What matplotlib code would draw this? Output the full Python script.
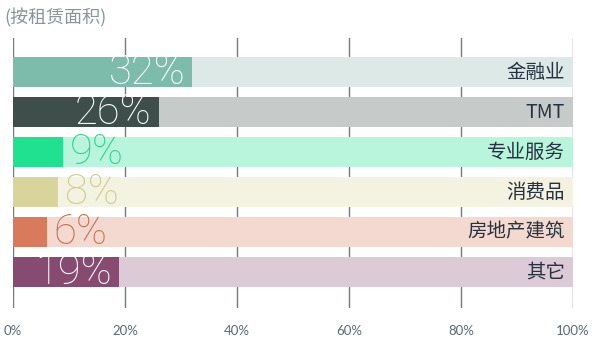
import matplotlib
matplotlib.use("Agg")
import matplotlib.pyplot as plt

plt.rcParams['font.family'] = ['Noto Sans CJK SC', 'DejaVu Sans']

categories = ["金融业", "TMT", "专业服务", "消费品", "房地产建筑", "其它"]
values = [32, 26, 9, 8, 6, 19]
dark_colors = ["#7dbcab", "#3e4e4b", "#1fe18f", "#d9d49b", "#da7a5c", "#874a70"]
light_colors = ["#dde9e6", "#c6cac9", "#b9f5dd", "#f4f2e1", "#f3d9d0", "#dccad7"]
outside_colors = ["white", "white", "#22d98b", "#cfca8e", "#cf6c4f", "white"]
ticks = [0, 20, 40, 60, 80, 100]
tick_labels = ["0%", "20%", "40%", "60%", "80%", "100%"]

fig = plt.figure(figsize=(6.0, 3.58), dpi=100)
ax = fig.add_axes([13 / 600, 50 / 358, 560 / 600, 270 / 358])

rows = list(range(len(categories)))
ax.barh(rows, [100] * len(rows), height=0.73, color=light_colors, zorder=2)
ax.barh(rows, values, height=0.73, color=dark_colors, zorder=3)

pct_font = dict(fontsize=30, family=["Roboto", "DejaVu Sans"], fontweight="light")
for i, v in enumerate(values):
    if v >= 15:
        ax.annotate(f"{v}%", (v, i), xytext=(-5, 0), textcoords="offset points",
                    ha="right", va="center", color=outside_colors[i], zorder=4, **pct_font)
    else:
        ax.annotate(f"{v}%", (v, i), xytext=(5, 0), textcoords="offset points",
                    ha="left", va="center", color=outside_colors[i], zorder=4, **pct_font)
    ax.annotate(categories[i], (100, i), xytext=(-6, 0), textcoords="offset points",
                ha="right", va="center", color="#26323f", fontsize=14, zorder=4)

ax.set_xlim(0, 100)
ax.set_ylim(5.9, -0.85)
ax.set_xticks(ticks)
ax.set_xticklabels(tick_labels, color="#5b6a70", fontsize=9.5,
                   family=["Lato", "DejaVu Sans"])
ax.tick_params(axis="x", length=0, pad=12)
ax.set_yticks([])
for x in ticks:
    ax.axvline(x, color="#6f7a82", linewidth=1.0, zorder=1)
for s in ax.spines.values():
    s.set_visible(False)

fig.text(4 / 600, 1 - 18 / 358, "(按租赁面积)", ha="left", va="center",
         color="#8c9498", fontsize=13)

fig.savefig("out.png", dpi=100)
